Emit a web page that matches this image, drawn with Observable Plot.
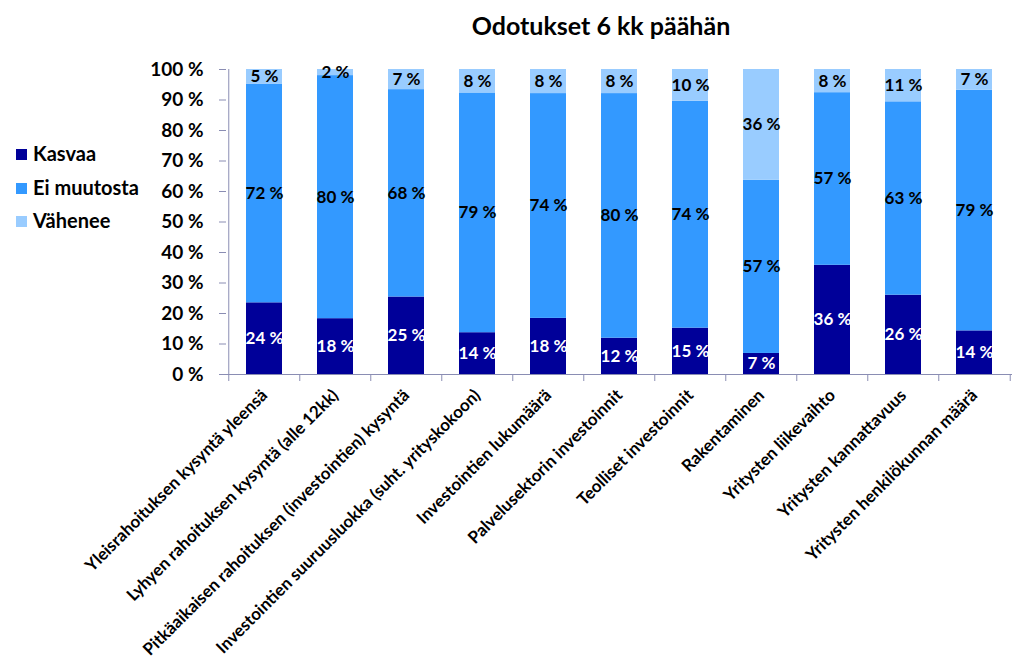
<!DOCTYPE html>
<html><head><meta charset="utf-8">
<script src="https://cdn.jsdelivr.net/npm/d3@7"></script>
<script src="https://cdn.jsdelivr.net/npm/@observablehq/plot@0.6"></script>
<style>
body{margin:0;background:#fff;font-family:Lato,"Open Sans",sans-serif}
#wrap{position:relative;width:1024px;height:669px;overflow:hidden;background:#fff}
#chart{position:absolute;left:0;top:0}
#title{position:absolute;left:401px;width:400px;top:10px;text-align:center;font-weight:bold;font-size:25px;line-height:30px;color:#000}
.leg{position:absolute;left:16px;font-weight:bold;font-size:20px;line-height:22px;color:#000;white-space:nowrap}
.leg span{display:inline-block;width:11px;height:11px;margin-right:6px;vertical-align:1px}
</style></head><body>
<div id="wrap">
<div id="chart"></div>
<div id="title">Odotukset 6 kk päähän</div>
<div id="legend"></div>
</div>
<script>
const categories = [
  "Yleisrahoituksen kysyntä yleensä",
  "Lyhyen rahoituksen kysyntä (alle 12kk)",
  "Pitkäaikaisen rahoituksen (investointien) kysyntä",
  "Investointien suuruusluokka (suht. yrityskokoon)",
  "Investointien lukumäärä",
  "Palvelusektorin investoinnit",
  "Teolliset investoinnit",
  "Rakentaminen",
  "Yritysten liikevaihto",
  "Yritysten kannattavuus",
  "Yritysten henkilökunnan määrä"
];
const kasvaa     = [23.5, 18.3, 25.4, 13.7, 18.4, 11.9, 15.2,  6.9, 35.8, 26.0, 14.3];
const eiMuutosta = [71.6, 79.7, 68.0, 78.6, 73.7, 80.2, 74.4, 56.8, 56.6, 63.4, 78.9];
const vahenee    = [ 4.9,  2.0,  6.6,  7.7,  7.9,  7.9, 10.4, 36.3,  7.6, 10.6,  6.8];
const seriesNames = ["Kasvaa", "Ei muutosta", "Vähenee"];
const seriesColors = ["#000099", "#3399ff", "#99ccff"];
const yTicks = [0, 10, 20, 30, 40, 50, 60, 70, 80, 90, 100];
const titleText = "Odotukset 6 kk päähän";

const seriesValues = [kasvaa, eiMuutosta, vahenee];
const rows = [];
categories.forEach((c, i) => {
  seriesNames.forEach((s, j) => rows.push({category: c, series: s, value: seriesValues[j][i]}));
});

const W = 1024, H = 669, mL = 226, mR = 12, mT = 69, mB = 295;
const step = (W - mL - mR) / categories.length;
const axisColor = "#8a8db3";
const fmt = d => Math.round(d.value) + " %";

const chart = Plot.plot({
  width: W, height: H,
  marginLeft: mL, marginRight: mR, marginTop: mT, marginBottom: mB,
  style: {fontFamily: "Lato, 'Open Sans', sans-serif", background: "white", overflow: "visible"},
  x: {domain: categories, paddingInner: 0.49, paddingOuter: 0.245},
  y: {domain: [0, 100]},
  color: {domain: seriesNames, range: seriesColors},
  marks: [
    Plot.barY(rows, {x: "category", y: "value", fill: "series", order: seriesNames}),
    Plot.text(rows, Plot.stackY({x: "category", y: "value", z: "series", order: seriesNames,
      text: d => d.series === "Kasvaa" ? fmt(d) : null, fill: "white",
      fontSize: 17, fontWeight: "bold"})),
    Plot.text(rows, Plot.stackY({x: "category", y: "value", z: "series", order: seriesNames,
      text: d => d.series !== "Kasvaa" ? fmt(d) : null, fill: "black",
      fontSize: 17, fontWeight: "bold"})),
    Plot.ruleY([0], {stroke: axisColor}),
    Plot.ruleX([categories[0]], {x: d => d, y1: 0, y2: 100, dx: -step / 2, stroke: axisColor}),
    Plot.axisY({ticks: yTicks, tickFormat: d => d + " %", tickSize: 7, tickPadding: 16,
      fontSize: 19, fontWeight: "bold", stroke: axisColor, fill: "black", label: null}),
    Plot.axisX({tickSize: 7, tickFormat: () => "", dx: -step / 2, stroke: axisColor, label: null}),
    Plot.axisX({ticks: [categories[categories.length - 1]], tickSize: 7, tickFormat: () => "",
      dx: step / 2, stroke: axisColor, label: null}),
    Plot.axisX({tickSize: 0, tickPadding: 18, tickRotate: -45, fontSize: 17, fontWeight: "bold",
      fill: "black", label: null})
  ]
});
document.getElementById("chart").appendChild(chart);

const leg = document.getElementById("legend");
const legTops = [142, 176, 209];
seriesNames.forEach((s, i) => {
  const d = document.createElement("div");
  d.className = "leg";
  d.style.top = legTops[i] + "px";
  d.innerHTML = `<span style="background:${seriesColors[i]}"></span>${s}`;
  leg.appendChild(d);
});
</script>
</body></html>
